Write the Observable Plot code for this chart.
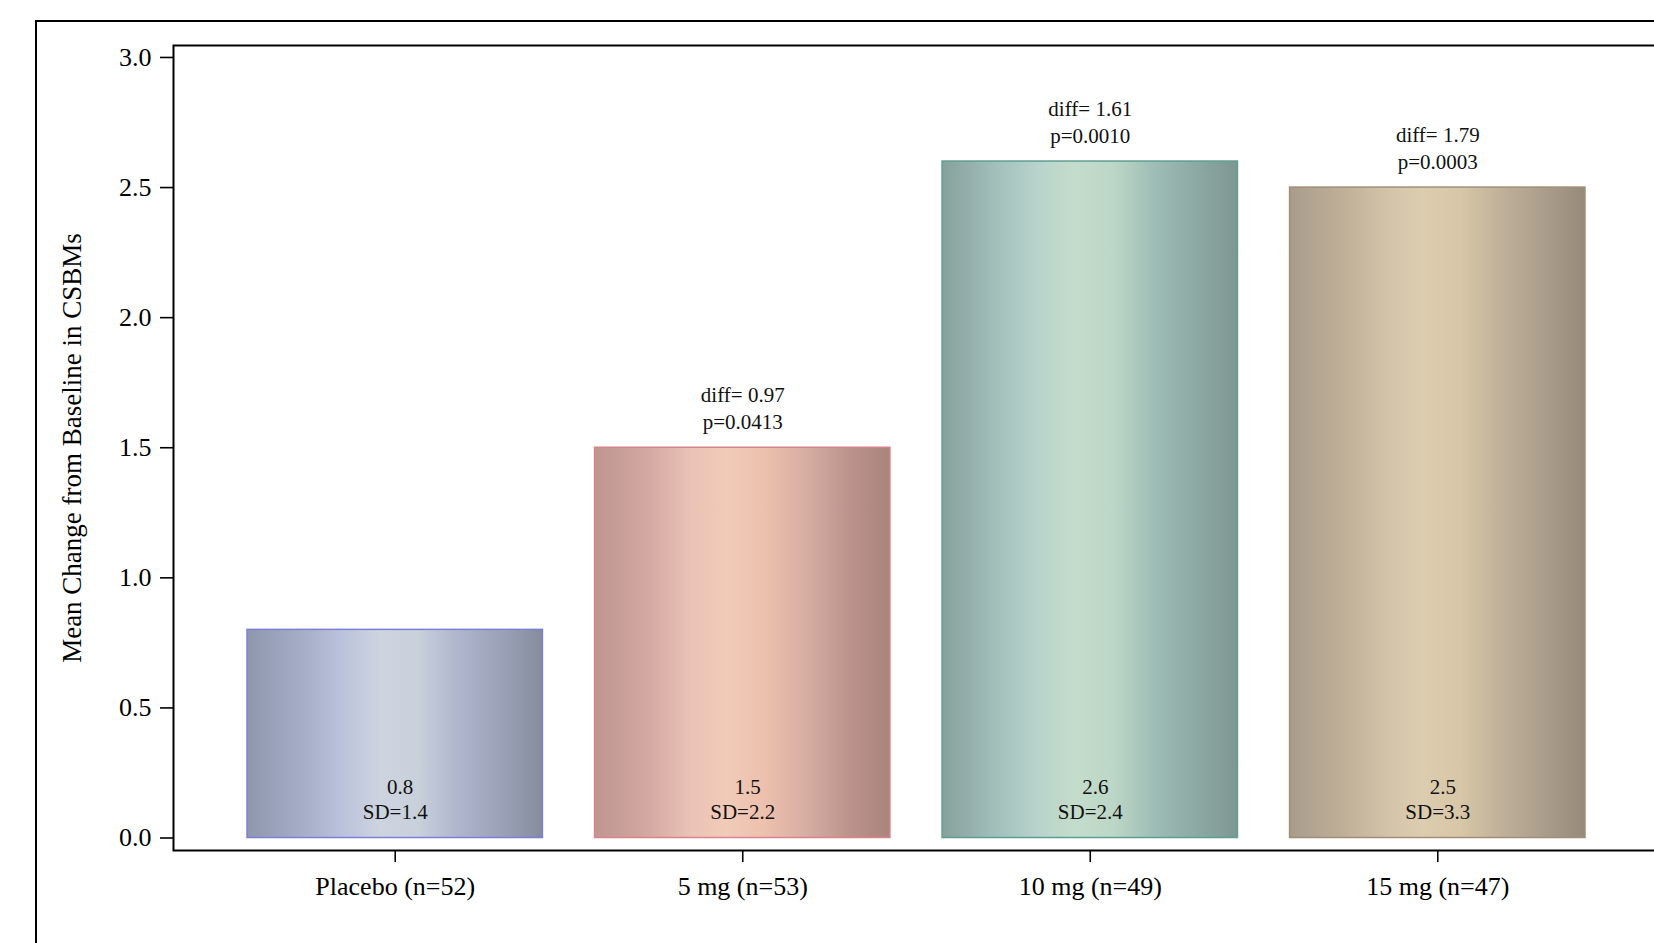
<!DOCTYPE html>
<html>
<head>
<meta charset="utf-8">
<script src="https://cdn.jsdelivr.net/npm/d3@7"></script>
<script src="https://cdn.jsdelivr.net/npm/@observablehq/plot@0.6"></script>
<style>
  html, body { margin: 0; padding: 0; background: #fff; overflow: hidden; }
  #wrap { position: relative; width: 1654px; height: 943px; overflow: hidden; }
  #outer { position: absolute; left: 35px; top: 20px; width: 2000px; height: 2000px; border: 2px solid #000; pointer-events: none; }
  #chart { position: absolute; left: 0; top: 0; width: 1660px; }
</style>
</head>
<body>
<div id="wrap"><div id="chart"></div><div id="outer"></div></div>
<script>
// ---- data ----
const groups = ["Placebo (n=52)", "5 mg (n=53)", "10 mg (n=49)", "15 mg (n=47)"];
const means = [0.8, 1.5, 2.6, 2.5];
const sds = [1.4, 2.2, 2.4, 3.3];
const diffs = [null, "0.97", "1.61", "1.79"];
const pvals = [null, "0.0413", "0.0010", "0.0003"];
const yTicks = [0, 0.5, 1.0, 1.5, 2.0, 2.5, 3.0];
const yLabel = "Mean Change from Baseline in CSBMs";

// ---- styles ----
const gradStops = [
  ["#8e97ad", "#a5adc6", "#bcc3dc", "#cdd4e0", "#c8d0da", "#aeb5cc", "#9aa1b6", "#858c9b"],
  ["#bf958f", "#d3a8a3", "#ebc3b7", "#f1cbb8", "#ecc0ad", "#d6ada2", "#bb928b", "#a8857c"],
  ["#87a09c", "#a2bfbb", "#b8d4cc", "#c4dccb", "#bcd7c7", "#9ebdb5", "#8ba8a2", "#7f9693"],
  ["#a89c8c", "#bfaf98", "#d3c3a8", "#ddcdb0", "#d7c7a7", "#c0b099", "#a99c8a", "#978a78"]
];
const stopOffsets = [0, 0.18, 0.33, 0.45, 0.58, 0.72, 0.87, 1];
const borders = ["#7b80d6", "#d8848c", "#5e9e90", "#a08e78"];

const rows = groups.map((g, i) => ({
  group: g, mean: means[i], sd: sds[i], diff: diffs[i], p: pvals[i],
  fill: `url(#grad${i})`, stroke: borders[i]
}));
const annotated = rows.filter(d => d.diff !== null);

const font = "'Liberation Serif', 'Times New Roman', serif";

const chart = Plot.plot({
  width: 1660,
  height: 943,
  marginLeft: 173,
  marginRight: 1,
  marginTop: 45,
  marginBottom: 93,
  style: { fontFamily: font, background: "transparent", color: "#000", maxWidth: "none" },
  x: { domain: groups, paddingInner: 0.15, paddingOuter: 0.213, round: false, label: null },
  y: { domain: [-0.048, 3.046], label: null },
  color: { type: "identity" },
  marks: [
    Plot.barY(rows, { x: "group", y1: 0, y2: "mean", fill: "fill", stroke: "stroke", strokeWidth: 1.5 }),
    Plot.text(rows, { x: "group", y: 0, text: d => d.mean.toFixed(1), dy: -51, dx: 5, fontSize: 21, fill: "#111", lineAnchor: "middle" }),
    Plot.text(rows, { x: "group", y: 0, text: d => `SD=${d.sd.toFixed(1)}`, dy: -26, fontSize: 21, fill: "#111", lineAnchor: "middle" }),
    Plot.text(annotated, { x: "group", y: "mean", text: d => `diff= ${d.diff}`, dy: -52, fontSize: 21, fill: "#111", lineAnchor: "middle" }),
    Plot.text(annotated, { x: "group", y: "mean", text: d => `p=${d.p}`, dy: -25, fontSize: 21, fill: "#111", lineAnchor: "middle" }),
    Plot.axisY({ ticks: yTicks, tickFormat: d3.format(".1f"), tickSize: 13, tickPadding: 9, fontSize: 26, strokeWidth: 1.6, label: null }),
    Plot.axisX({ tickSize: 12, tickPadding: 14, fontSize: 26, strokeWidth: 1.6, label: null }),
    Plot.text([yLabel], { frameAnchor: "left", dx: -101, rotate: -90, text: d => d, fontSize: 27, fill: "#000", textAnchor: "middle", lineAnchor: "middle" }),
    Plot.frame({ stroke: "#000", strokeWidth: 2 })
  ]
});

// gradient definitions
const svg = d3.select(chart);
const defs = svg.insert("defs", ":first-child");
gradStops.forEach((stops, i) => {
  const lg = defs.append("linearGradient").attr("id", `grad${i}`)
    .attr("x1", "0").attr("y1", "0").attr("x2", "1").attr("y2", "0");
  stops.forEach((c, k) => lg.append("stop").attr("offset", stopOffsets[k]).attr("stop-color", c));
});

document.getElementById("chart").appendChild(chart);
</script>
</body>
</html>
